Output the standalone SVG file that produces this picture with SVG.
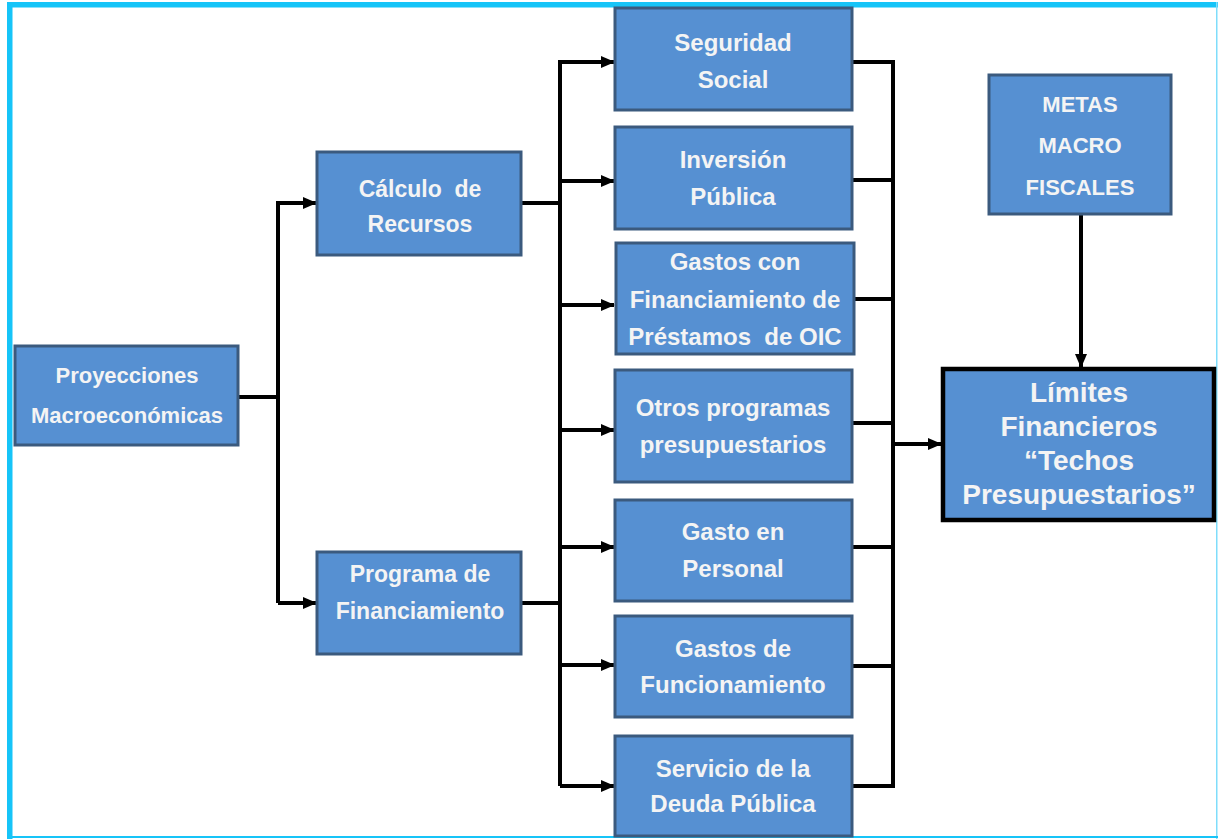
<svg xmlns="http://www.w3.org/2000/svg" width="1218" height="839" viewBox="0 0 1218 839">
<style>
.box{fill:#5690D2;stroke:#3B5A7E;stroke-width:3}
.big{fill:#5690D2;stroke:#000;stroke-width:4.5}
.t{font-family:"Liberation Sans",Arial,sans-serif;font-weight:bold;fill:#F4F4F4;text-anchor:middle}
.c{stroke:#000;stroke-width:4;fill:none}
</style>
<defs>
<marker id="ah" markerWidth="14" markerHeight="12" refX="13" refY="6" orient="auto" markerUnits="userSpaceOnUse">
<path d="M0,0 L14,6 L0,12 Z" fill="#000"/>
</marker>
</defs>
<rect width="1218" height="839" fill="#fff"/>
<g id="frame">
<rect x="7" y="2" width="1211" height="5.5" fill="#16C4F8"/>
<rect x="7" y="2" width="5.5" height="837" fill="#16C4F8"/>
<rect x="1216" y="2" width="1.5" height="837" fill="#7FDDFB"/>
<rect x="7" y="836" width="1211" height="2" fill="#16C4F8"/>
</g>
<g id="connectors">
<path class="c" d="M239,397 H278"/>
<path class="c" d="M278,603 V203 H316" marker-end="url(#ah)"/>
<path class="c" d="M278,603 H316" marker-end="url(#ah)"/>
<path class="c" d="M522,203 H560"/>
<path class="c" d="M522,603 H560"/>
<path class="c" d="M560,786 V62 H614" marker-end="url(#ah)"/>
<path class="c" d="M560,181 H614" marker-end="url(#ah)"/>
<path class="c" d="M560,305 H614" marker-end="url(#ah)"/>
<path class="c" d="M560,430 H614" marker-end="url(#ah)"/>
<path class="c" d="M560,547 H614" marker-end="url(#ah)"/>
<path class="c" d="M560,665 H614" marker-end="url(#ah)"/>
<path class="c" d="M560,786 H614" marker-end="url(#ah)"/>
<path class="c" d="M853,62 H893 V786 H853"/>
<path class="c" d="M853,180 H893"/>
<path class="c" d="M855,299 H893"/>
<path class="c" d="M853,423 H893"/>
<path class="c" d="M853,547 H893"/>
<path class="c" d="M853,666 H893"/>
<path class="c" d="M893,444 H941" marker-end="url(#ah)"/>
<path class="c" d="M1081,215 V367" marker-end="url(#ah)"/>
</g>
<g id="proyecciones">
<rect class="box" x="15" y="346" width="223" height="99"/>
<text class="t" font-size="22" x="127" y="383">Proyecciones</text>
<text class="t" font-size="22" x="127" y="423">Macroeconómicas</text>
</g>
<g id="calculo">
<rect class="box" x="317" y="152" width="204" height="103"/>
<text class="t" font-size="23" x="420" y="197" xml:space="preserve">Cálculo  de</text>
<text class="t" font-size="23" x="420" y="232">Recursos</text>
</g>
<g id="programa">
<rect class="box" x="317" y="552" width="204" height="102"/>
<text class="t" font-size="23" x="420" y="582">Programa de</text>
<text class="t" font-size="23" x="420" y="619">Financiamiento</text>
</g>
<g id="seguridad">
<rect class="box" x="615" y="8" width="237" height="102"/>
<text class="t" font-size="24" x="733" y="51">Seguridad</text>
<text class="t" font-size="24" x="733" y="88">Social</text>
</g>
<g id="inversion">
<rect class="box" x="615" y="127" width="237" height="102"/>
<text class="t" font-size="24" x="733" y="168">Inversión</text>
<text class="t" font-size="24" x="733" y="205">Pública</text>
</g>
<g id="gastos-financiamiento">
<rect class="box" x="616" y="243" width="238" height="111"/>
<text class="t" font-size="24" x="735" y="270">Gastos con</text>
<text class="t" font-size="24" x="735" y="308">Financiamiento de</text>
<text class="t" font-size="24" x="735" y="345" xml:space="preserve">Préstamos  de OIC</text>
</g>
<g id="otros">
<rect class="box" x="615" y="370" width="237" height="112"/>
<text class="t" font-size="24" x="733" y="416">Otros programas</text>
<text class="t" font-size="24" x="733" y="453">presupuestarios</text>
</g>
<g id="personal">
<rect class="box" x="615" y="500" width="237" height="101"/>
<text class="t" font-size="24" x="733" y="540">Gasto en</text>
<text class="t" font-size="24" x="733" y="577">Personal</text>
</g>
<g id="funcionamiento">
<rect class="box" x="615" y="616" width="237" height="101"/>
<text class="t" font-size="24" x="733" y="657">Gastos de</text>
<text class="t" font-size="24" x="733" y="693">Funcionamiento</text>
</g>
<g id="deuda">
<rect class="box" x="615" y="736" width="237" height="100"/>
<text class="t" font-size="24" x="733" y="777">Servicio de la</text>
<text class="t" font-size="24" x="733" y="812">Deuda Pública</text>
</g>
<g id="metas">
<rect class="box" x="989" y="75" width="182" height="139"/>
<text class="t" font-size="22" x="1080" y="112">METAS</text>
<text class="t" font-size="22" x="1080" y="153">MACRO</text>
<text class="t" font-size="22" x="1080" y="195">FISCALES</text>
</g>
<g id="limites">
<rect class="big" x="943" y="369" width="271" height="151"/>
<text class="t" font-size="28" x="1079" y="402">Límites</text>
<text class="t" font-size="28" x="1079" y="436">Financieros</text>
<text class="t" font-size="28" x="1079" y="470">“Techos</text>
<text class="t" font-size="28" x="1079" y="504">Presupuestarios”</text>
</g>
</svg>
